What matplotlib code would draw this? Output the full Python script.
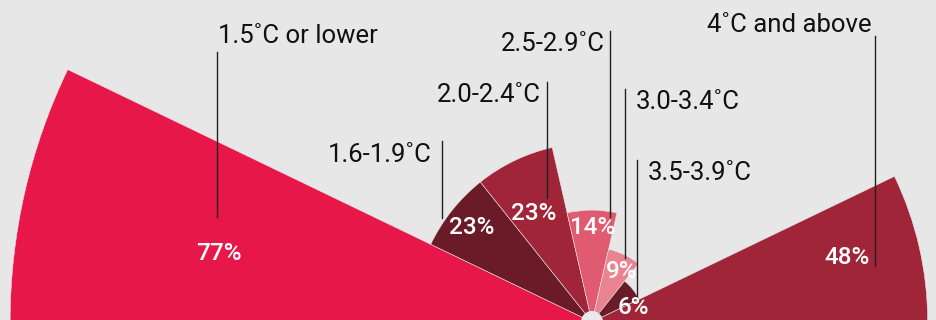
import numpy as np
import matplotlib
matplotlib.use("Agg")
import matplotlib.pyplot as plt

# data
categories = ["1.5˚C or lower", "1.6-1.9˚C", "2.0-2.4˚C", "2.5-2.9˚C",
              "3.0-3.4˚C", "3.5-3.9˚C", "4˚C and above"]
percent = [77, 23, 23, 14, 9, 6, 48]
# bar lengths as drawn in the picture (the last one is drawn shorter than its label)
bar_length = [77, 23, 23, 14, 9, 6, 44]
colors = ["#e8174a", "#6b1a27", "#a02538", "#e05a70", "#e8838f", "#6b1a27", "#a02538"]

bg = "#e6e7e6"
W, H = 936, 320
cx, cy = 592, 322          # centre of the fan, in pixels from top-left (just below the edge)
px_per_unit = 7.46
hole = 1.0                  # bars start a little off centre
R = 620                     # polar axes radius in pixels

fig = plt.figure(figsize=(W / 100, H / 100), dpi=100, facecolor=bg)

# polar axes centred on the bottom edge
ax = fig.add_axes([(cx - R) / W, (H - cy - R) / H, 2 * R / W, 2 * R / H],
                  projection="polar")
ax.set_facecolor("none")
ax.set_ylim(0, R / px_per_unit)
ax.axis("off")

n = len(percent)
w = np.pi / n
theta = np.pi - (np.arange(n) + 0.5) * w
ax.bar(theta, bar_length, width=w, bottom=hole, color=colors,
       edgecolor=bg, linewidth=0.4, align="center")
ax.bar(0, 11 / px_per_unit, width=2 * np.pi, bottom=0, color="#e9eae9", linewidth=0)

# overlay in pixel coordinates for labels and leader lines
ov = fig.add_axes([0, 0, 1, 1])
ov.set_xlim(0, W)
ov.set_ylim(H, 0)
ov.axis("off")
ov.patch.set_alpha(0)

font = ["Roboto", "DejaVu Sans"]

# category label: (x, baseline y, ha); leader line: (x, y top, y bottom)
cat_pos = [(218, 43, "left"), (432, 162, "right"), (541, 102, "right"),
           (605, 51, "right"), (636, 109, "left"), (648, 180, "left"),
           (872, 32, "right")]
lines = [(217, 52, 217), (442, 141, 218), (547, 82, 198), (610, 31, 217),
         (625, 89, 258), (637, 160, 298), (875, 36, 266)]
pct_pos = [(219, 254), (472, 228), (534, 213), (593, 227),
           (622, 271), (633, 308), (847, 258)]

for i in range(n):
    x, y, ha = cat_pos[i]
    ov.text(x, y, categories[i], ha=ha, va="baseline", fontsize=18.5,
            family=font, color="#111111")
    lx, y0, y1 = lines[i]
    ov.plot([lx, lx], [y0, y1], color="#222222", lw=1)
    px, py = pct_pos[i]
    ov.text(px, py, f"{percent[i]}%", ha="center", va="center", fontsize=17.5,
            family=font, weight="medium", color="white")

fig.savefig("out.png", dpi=100, facecolor=bg)
